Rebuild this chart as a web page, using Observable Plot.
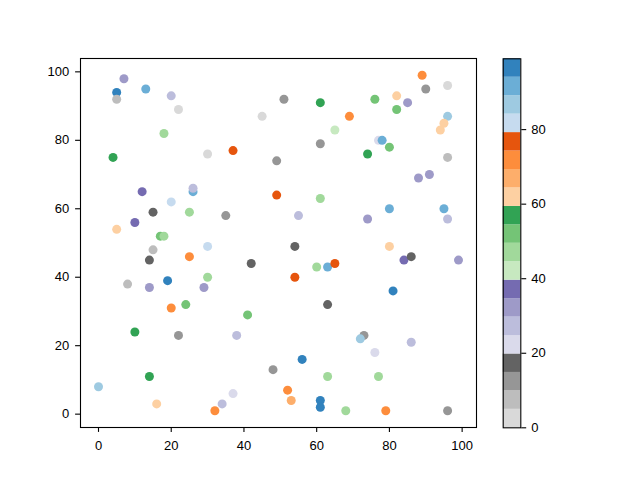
<!DOCTYPE html>
<html>
<head>
<meta charset="utf-8">
<script src="https://cdn.jsdelivr.net/npm/d3@7"></script>
<script src="https://cdn.jsdelivr.net/npm/@observablehq/plot@0.6"></script>
<style>
  body { margin: 0; background: white; }
  #chart { position: relative; width: 640px; height: 480px; }
  #chart svg { position: absolute; left: 0; top: 0; background: transparent; }
</style>
</head>
<body>
<div id="chart"></div>
<script>
// values
const xs = [7, 5, 5, 13, 20, 22, 45, 18, 4, 30, 37, 49, 49, 12, 26, 26, 20, 15, 25, 35, 10, 5, 17, 18, 30,
  51, 61, 76, 82, 85, 82, 89, 90, 96, 69, 96, 95, 94, 65, 77, 78, 61, 80, 74, 96, 91, 88, 61, 55, 74, 80, 95, 96, 54, 80,
  15, 14, 25, 42, 8, 14, 19, 29, 30, 20, 24, 41, 10, 22, 38, 48, 14, 0, 37, 16, 34, 32,
  84, 86, 99, 60, 63, 65, 54, 81, 63, 73, 72, 76, 86, 56, 63, 77, 52, 53, 61, 61, 68, 79, 96];
const ys = [98, 94, 92, 95, 93, 89, 87, 82, 75, 76, 77, 74, 64, 65, 65, 66, 62, 59, 59, 58, 56, 54, 52, 52, 49,
  92, 91, 92, 93, 91, 89, 99, 95, 96, 87, 87, 85, 83, 83, 80, 80, 79, 78, 76, 75, 70, 69, 63, 58, 57, 60, 60, 57, 49, 49,
  48, 45, 46, 44, 38, 37, 39, 37, 40, 31, 32, 29, 24, 23, 23, 13, 11, 8, 6, 3, 3, 1,
  45, 46, 45, 43, 43, 44, 40, 36, 32, 23, 22, 18, 21, 16, 11, 11, 7, 4, 4, 2, 1, 1, 1];
const cs = [32, 97, 7, 92, 27, 2, 2, 47, 57, 2, 77, 12, 77, 37, 92, 27, 82, 17, 47, 12, 37, 62, 52, 47, 82,
  12, 57, 52, 62, 32, 52, 72, 12, 2, 72, 87, 62, 62, 42, 22, 92, 12, 52, 57, 7, 32, 32, 47, 27, 32, 92, 92, 27, 17, 62,
  7, 17, 72, 17, 7, 32, 97, 32, 47, 72, 52, 52, 57, 12, 27, 12, 57, 87, 22, 62, 27, 72,
  37, 17, 32, 47, 92, 77, 77, 97, 17, 12, 87, 22, 27, 97, 47, 47, 72, 67, 97, 97, 47, 72, 12];

const axisTicks = [0, 20, 40, 60, 80, 100];
const cmin = 0, cmax = 99;
const colorbarTicks = [0, 20, 40, 60, 80];

// tab20c, reversed
const palette = ["#d9d9d9", "#bdbdbd", "#969696", "#636363", "#dadaeb", "#bcbddc", "#9e9ac8", "#756bb1",
  "#c7e9c0", "#a1d99b", "#74c476", "#31a354", "#fdd0a2", "#fdae6b", "#fd8d3c", "#e6550d",
  "#c6dbef", "#9ecae1", "#6baed6", "#3182bd"];

const points = xs.map((x, i) => ({x, y: ys[i], c: cs[i]}));
const step = (cmax - cmin) / palette.length;
const thresholds = d3.range(1, palette.length).map(i => cmin + i * step);
const bands = palette.map((col, i) => ({y1: cmin + i * step, y2: cmin + (i + 1) * step, col}));

const font = {color: "black", background: "transparent"};
const axisStyle = {label: null, tickSize: 4.9, strokeWidth: 1.1, fontSize: 13};

const main = Plot.plot({
  width: 640,
  height: 480,
  marginLeft: 80,
  marginRight: 164,
  marginTop: 58,
  marginBottom: 53,
  style: font,
  x: {domain: [-4.95, 103.95]},
  y: {domain: [-3.9, 103.9]},
  color: {type: "threshold", domain: thresholds, range: palette},
  marks: [
    Plot.dot(points, {x: "x", y: "y", fill: "c", r: 4.5}),
    Plot.axisX({...axisStyle, tickPadding: 8.5, ticks: axisTicks}),
    Plot.axisY({...axisStyle, tickPadding: 6.3, ticks: axisTicks}),
    Plot.frame({stroke: "black", strokeWidth: 1.1})
  ]
});

const bar = Plot.plot({
  width: 640,
  height: 480,
  marginLeft: 502.7,
  marginRight: 119.7,
  marginTop: 58.3,
  marginBottom: 52.7,
  style: font,
  x: {domain: [0, 1], axis: null},
  y: {domain: [cmin, cmax]},
  color: {type: "identity"},
  marks: [
    Plot.rect(bands, {x1: 0, x2: 1, y1: "y1", y2: "y2", fill: "col"}),
    Plot.axisY({...axisStyle, anchor: "right", tickPadding: 5.5, ticks: colorbarTicks}),
    Plot.frame({stroke: "black", strokeWidth: 1.1})
  ]
});

// tick label font, like the reference
for (const svg of [main, bar]) {
  d3.select(svg).attr("font-size", 13).attr("font-family", "Liberation Sans, Arial, sans-serif");
  d3.select(svg).selectAll("g").filter(function () { return this.hasAttribute("font-size"); })
    .attr("font-size", 13);
  d3.select(svg).selectAll("text").attr("font-size", 13).attr("fill", "black");
}

d3.select("#chart").append(() => main);
d3.select("#chart").append(() => bar);
</script>
</body>
</html>
